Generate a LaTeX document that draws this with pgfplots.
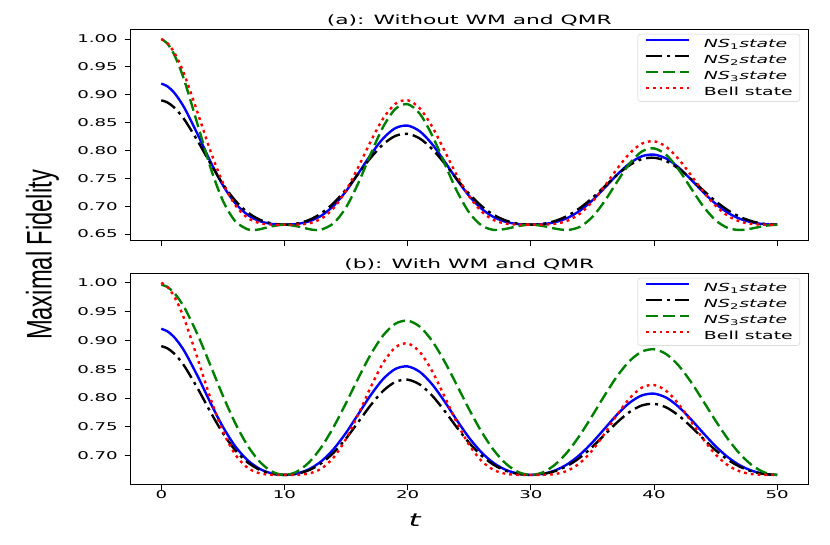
\documentclass[border=0pt]{standalone}
\usepackage{pgfplots}
\pgfplotsset{compat=1.18}
\usepackage{fontspec}
\setmainfont{DejaVu Sans}
\newfontfamily\libsans{Liberation Sans}
\usepackage{graphicx}
\definecolor{mplgreen}{rgb}{0,0.5,0}
\newcommand{\sx}[1]{\scalebox{1.7}[1]{#1}}
\pgfplotsset{
  mystyle/.style={
    scale only axis, width=677.5pt, height=211pt,
    xmin=-2.5, xmax=52.5,
    xtick={0,10,20,30,40,50},
    tick align=outside, xtick pos=left, ytick pos=left,
    major tick length=6pt,
    tick style={black, line width=0.9pt},
    axis line style={line width=0.9pt},
    yticklabel={\sx{\pgfmathprintnumber[fixed,fixed zerofill,precision=2,assume math mode=true]{\tick}}},
    xticklabel={\sx{\pgfmathprintnumber[assume math mode=true]{\tick}}},
    ticklabel style={font=\fontsize{10.7}{12}\selectfont, inner sep=0pt},
    yticklabel style={xshift=-6.5pt},
    every axis title/.style={at={(0.5,1)}, anchor=base, yshift=4.5pt, font=\fontsize{12.8}{14}\selectfont},
    legend cell align=left,
    legend style={at={(1,1)}, anchor=north east, xshift=-8pt, yshift=-5pt,
      draw=black!20, rounded corners=2.5pt, fill=white,
      inner xsep=7pt, inner ysep=1.6pt, row sep=0pt, column sep=13.7pt,
      font=\fontsize{11.1}{12}\selectfont,
      nodes={inner sep=0pt, text height=11.5pt, text depth=4.5pt}},
    legend image code/.code={\draw[##1] (0pt,3.8pt) -- (43pt,3.8pt);},
    every axis plot/.append style={line width=2.4pt, smooth},
  },
  nsone/.style={blue, solid},
  nstwo/.style={black, dash pattern=on 16pt off 5pt on 3pt off 5pt},
  nsthree/.style={mplgreen, dash pattern=on 12pt off 5pt},
  bell/.style={red, dash pattern=on 2.8pt off 4pt},
}
\begin{document}
\begin{tikzpicture}[x=1pt,y=1pt]
\path[use as bounding box] (0,0) rectangle (830,-545);
% ---------------- top panel ----------------
\begin{axis}[mystyle, at={(130.5pt,-240pt)}, anchor=south west,
  ymin=0.6392, ymax=1.0180,
  ytick={0.65,0.70,0.75,0.80,0.85,0.90,0.95,1.00},
  xticklabels={,,,,,},
  title={\sx{(a): Without WM and QMR}}]
\addplot[nsone] coordinates {(0,0.9200) (0.5,0.9150) (1,0.9048) (1.5,0.8899) (2,0.8713) (3,0.8266) (4,0.7795) (5,0.7375) (6,0.7054) (7,0.6845) (8,0.6730) (9,0.6680) (10,0.6667) (11,0.6680) (12,0.6727) (13,0.6830) (14,0.7009) (15,0.7269) (16,0.7589) (17,0.7923) (18,0.8213) (19,0.8400) (20,0.8445) (21,0.8341) (22,0.8110) (23,0.7801) (24,0.7474) (25,0.7180) (26,0.6953) (27,0.6802) (28,0.6716) (29,0.6677) (30,0.6667) (31,0.6677) (32,0.6714) (33,0.6791) (34,0.6921) (35,0.7105) (36,0.7330) (37,0.7563) (38,0.7764) (39,0.7894) (40,0.7925) (41,0.7853) (42,0.7693) (43,0.7478) (44,0.7249) (45,0.7042) (46,0.6880) (47,0.6770) (48,0.6706) (49,0.6675) (50,0.6667)};
\addlegendentry{\sx{\textit{NS}\textsubscript{1}\textit{state}}}
\addplot[nstwo] coordinates {(0,0.8900) (0.5,0.8861) (1,0.8780) (1.5,0.8662) (2,0.8513) (3,0.8151) (4,0.7760) (5,0.7396) (6,0.7101) (7,0.6889) (8,0.6756) (9,0.6688) (10,0.6667) (11,0.6687) (12,0.6752) (13,0.6873) (14,0.7057) (15,0.7301) (16,0.7583) (17,0.7868) (18,0.8108) (19,0.8260) (20,0.8297) (21,0.8212) (22,0.8023) (23,0.7765) (24,0.7484) (25,0.7219) (26,0.7001) (27,0.6841) (28,0.6739) (29,0.6684) (30,0.6667) (31,0.6683) (32,0.6736) (33,0.6829) (34,0.6969) (35,0.7149) (36,0.7356) (37,0.7561) (38,0.7733) (39,0.7843) (40,0.7869) (41,0.7808) (42,0.7672) (43,0.7487) (44,0.7283) (45,0.7089) (46,0.6926) (47,0.6805) (48,0.6725) (49,0.6680) (50,0.6667)};
\addlegendentry{\sx{\textit{NS}\textsubscript{2}\textit{state}}}
\addplot[nsthree] coordinates {(0,1.0000) (0.5,0.9916) (1,0.9741) (1.5,0.9486) (2,0.9168) (3,0.8426) (4,0.7687) (5,0.7097) (6,0.6731) (7,0.6584) (7.5,0.6572) (8,0.6585) (9,0.6639) (10,0.6667) (11,0.6639) (12,0.6587) (12.5,0.6572) (13,0.6579) (14,0.6695) (15,0.6978) (16,0.7417) (17,0.7936) (18,0.8419) (19,0.8745) (20,0.8830) (21,0.8654) (22,0.8265) (23,0.7764) (24,0.7270) (25,0.6883) (26,0.6653) (27,0.6573) (28,0.6593) (29,0.6643) (30,0.6667) (31,0.6643) (32,0.6595) (33,0.6572) (34,0.6631) (35,0.6807) (36,0.7092) (37,0.7436) (38,0.7760) (39,0.7979) (40,0.8037) (41,0.7918) (42,0.7656) (43,0.7322) (44,0.6996) (45,0.6746) (46,0.6607) (47,0.6572) (48,0.6601) (49,0.6647) (50,0.6667)};
\addlegendentry{\sx{\textit{NS}\textsubscript{3}\textit{state}}}
\addplot[bell] coordinates {(0,1.0000) (0.5,0.9926) (1,0.9776) (1.5,0.9559) (2,0.9287) (3,0.8645) (4,0.7985) (5,0.7421) (6,0.7020) (7,0.6790) (8,0.6693) (9,0.6668) (10,0.6667) (11,0.6668) (12,0.6691) (13,0.6776) (14,0.6967) (15,0.7284) (16,0.7704) (17,0.8162) (18,0.8569) (19,0.8836) (20,0.8901) (21,0.8751) (22,0.8423) (23,0.7993) (24,0.7550) (25,0.7172) (26,0.6903) (27,0.6749) (28,0.6684) (29,0.6668) (30,0.6667) (31,0.6668) (32,0.6683) (33,0.6740) (34,0.6868) (35,0.7081) (36,0.7362) (37,0.7669) (38,0.7942) (39,0.8121) (40,0.8165) (41,0.8064) (42,0.7844) (43,0.7556) (44,0.7259) (45,0.7006) (46,0.6825) (47,0.6722) (48,0.6678) (49,0.6667) (50,0.6667)};
\addlegendentry{\sx{Bell state}}
\end{axis}
% ---------------- bottom panel ----------------
\begin{axis}[mystyle, at={(130.5pt,-484pt)}, anchor=south west,
  ymin=0.6509, ymax=1.0168,
  ytick={0.70,0.75,0.80,0.85,0.90,0.95,1.00},
  title={\sx{(b): With WM and QMR}}]
\addplot[nsone] coordinates {(0,0.9200) (0.5,0.9156) (1,0.9066) (1.5,0.8933) (2,0.8766) (3,0.8358) (4,0.7914) (5,0.7501) (6,0.7164) (7,0.6922) (8,0.6770) (9,0.6691) (10,0.6667) (11,0.6690) (12,0.6766) (13,0.6905) (14,0.7117) (15,0.7398) (16,0.7723) (17,0.8050) (18,0.8327) (19,0.8504) (20,0.8548) (21,0.8451) (22,0.8234) (23,0.7938) (24,0.7613) (25,0.7308) (26,0.7056) (27,0.6870) (28,0.6751) (29,0.6687) (30,0.6667) (31,0.6686) (32,0.6747) (33,0.6857) (34,0.7020) (35,0.7231) (36,0.7472) (37,0.7713) (38,0.7915) (39,0.8044) (40,0.8076) (41,0.8005) (42,0.7847) (43,0.7630) (44,0.7391) (45,0.7164) (46,0.6973) (47,0.6829) (48,0.6735) (49,0.6683) (50,0.6667)};
\addlegendentry{\sx{\textit{NS}\textsubscript{1}\textit{state}}}
\addplot[nstwo] coordinates {(0,0.8900) (0.5,0.8861) (1,0.8780) (1.5,0.8662) (2,0.8512) (3,0.8149) (4,0.7755) (5,0.7391) (6,0.7095) (7,0.6885) (8,0.6754) (9,0.6687) (10,0.6667) (11,0.6686) (12,0.6750) (13,0.6870) (14,0.7054) (15,0.7299) (16,0.7586) (17,0.7876) (18,0.8122) (19,0.8279) (20,0.8318) (21,0.8232) (22,0.8039) (23,0.7776) (24,0.7489) (25,0.7221) (26,0.7000) (27,0.6840) (28,0.6737) (29,0.6683) (30,0.6667) (31,0.6683) (32,0.6735) (33,0.6828) (34,0.6969) (35,0.7153) (36,0.7365) (37,0.7577) (38,0.7756) (39,0.7870) (40,0.7899) (41,0.7836) (42,0.7696) (43,0.7505) (44,0.7294) (45,0.7095) (46,0.6928) (47,0.6805) (48,0.6724) (49,0.6680) (50,0.6667)};
\addlegendentry{\sx{\textit{NS}\textsubscript{2}\textit{state}}}
\addplot[nsthree] coordinates {(0,0.9967) (0.5,0.9924) (1,0.9832) (1.5,0.9696) (2,0.9519) (3,0.9075) (4,0.8561) (5,0.8040) (6,0.7566) (7,0.7177) (8,0.6893) (9,0.6723) (10,0.6667) (11,0.6722) (12,0.6886) (13,0.7150) (14,0.7502) (15,0.7914) (16,0.8348) (17,0.8755) (18,0.9083) (19,0.9288) (20,0.9341) (21,0.9235) (22,0.8986) (23,0.8632) (24,0.8221) (25,0.7800) (26,0.7414) (27,0.7093) (28,0.6857) (29,0.6714) (30,0.6667) (31,0.6713) (32,0.6851) (33,0.7071) (34,0.7361) (35,0.7698) (36,0.8049) (37,0.8377) (38,0.8639) (39,0.8803) (40,0.8845) (41,0.8760) (42,0.8562) (43,0.8278) (44,0.7946) (45,0.7605) (46,0.7289) (47,0.7024) (48,0.6827) (49,0.6707) (50,0.6667)};
\addlegendentry{\sx{\textit{NS}\textsubscript{3}\textit{state}}}
\addplot[bell] coordinates {(0,1.0000) (0.5,0.9928) (1,0.9779) (1.5,0.9563) (2,0.9292) (3,0.8651) (4,0.7990) (5,0.7425) (6,0.7022) (7,0.6791) (8,0.6693) (9,0.6668) (10,0.6667) (11,0.6668) (12,0.6691) (13,0.6777) (14,0.6972) (15,0.7293) (16,0.7720) (17,0.8188) (18,0.8604) (19,0.8878) (20,0.8946) (21,0.8795) (22,0.8462) (23,0.8024) (24,0.7572) (25,0.7185) (26,0.6909) (27,0.6751) (28,0.6685) (29,0.6668) (30,0.6667) (31,0.6668) (32,0.6683) (33,0.6742) (34,0.6875) (35,0.7095) (36,0.7387) (37,0.7707) (38,0.7991) (39,0.8179) (40,0.8226) (41,0.8122) (42,0.7894) (43,0.7595) (44,0.7286) (45,0.7021) (46,0.6833) (47,0.6725) (48,0.6679) (49,0.6668) (50,0.6667)};
\addlegendentry{\sx{Bell state}}
\end{axis}
\node[rotate=90, anchor=base, font=\libsans\fontsize{23.7}{26}\selectfont] at (51.7pt,-255pt) {\scalebox{1}[1.5]{Maximal Fidelity}};
\node[anchor=base, font=\fontsize{18}{20}\selectfont] at (415pt,-526.5pt) {\sx{\textit{t}}};
\end{tikzpicture}
\end{document}
